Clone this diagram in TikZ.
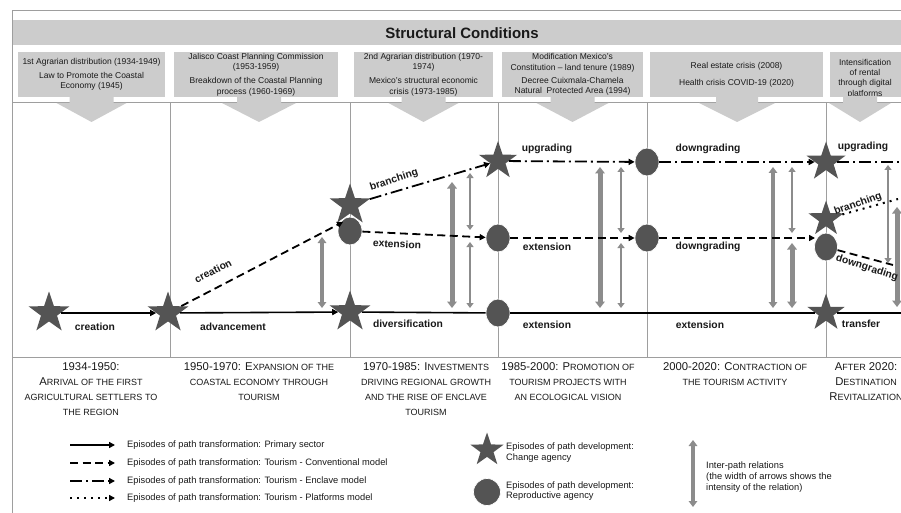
\documentclass[tikz,border=0pt]{standalone}
\usepackage{fontspec}
\setmainfont{Liberation Sans}
\usetikzlibrary{shapes.geometric,arrows.meta,calc}
\definecolor{boxgray}{gray}{0.8}
\definecolor{nodegray}{gray}{0.33}
\definecolor{relgray}{gray}{0.55}
\definecolor{gridgray}{gray}{0.62}
\definecolor{txt}{gray}{0.1}
\newcommand\smc[1]{{\fontsize{9}{15}\selectfont #1}}
\begin{document}
\begin{tikzpicture}[x=1pt,y=-1pt,
  sbox/.style={fill=boxgray, inner sep=0pt, align=center, font=\fontsize{8.5}{10.5}\selectfont, text=txt, minimum height=45pt},
  starnode/.style={star, star points=5, star point ratio=2.55, fill=nodegray, inner sep=0pt, minimum size=#1},
  starnode/.default=43pt,
  circnode/.style={ellipse, fill=nodegray, draw=white, line width=0.7pt, inner sep=0pt, minimum width=24pt, minimum height=28pt},
  lbl/.style={font=\bfseries\fontsize{10.3}{12}\selectfont, text=txt, inner sep=0pt},
  prim/.style={line width=1.6pt, black},
  conv/.style={line width=1.8pt, dash pattern=on 8pt off 4.5pt},
  encl/.style={line width=1.8pt, dash pattern=on 12pt off 4pt on 2pt off 4pt},
  plat/.style={line width=2pt, dash pattern=on 2pt off 5pt},
  arr/.style={-{Triangle[length=6pt,width=6pt]}},
  relthin/.style={relgray, line width=2.8pt, {Triangle[length=5pt,width=7pt]}-{Triangle[length=5pt,width=7pt]}},
  relmed/.style={relgray, line width=4pt, {Triangle[length=6pt,width=8.5pt]}-{Triangle[length=6pt,width=8.5pt]}},
  relthick/.style={relgray, line width=5pt, {Triangle[length=6.5pt,width=9.5pt]}-{Triangle[length=6.5pt,width=9.5pt]}},
  period/.style={anchor=north, inner sep=0pt, align=center, font=\fontsize{11.3}{15}\selectfont, text=txt},
  legtxt/.style={anchor=west, inner sep=0pt, align=left, font=\fontsize{9.3}{10.8}\selectfont, text=txt},
  grid line/.style={gridgray, line width=0.8pt},
]
\useasboundingbox (0,0) rectangle (901,513);
\clip (0,0) rectangle (901,513);
\fill[white] (0,0) rectangle (901,513);

% title band
\fill[boxgray] (12,20) rectangle (920,45);
\draw[grid line] (12,530) -- (12,10) -- (920,10);
\node[font=\bfseries\fontsize{15}{18}\selectfont, text=txt] (title) at (462,33) {Structural Conditions};

% grid
\draw[grid line] (12,102.5) -- (920,102.5);
\draw[grid line] (12,357) -- (920,357);
\foreach \x in {170,350,498.5,647.5,826} \draw[grid line] (\x,102.5) -- (\x,357);

% structural condition boxes
\node[sbox, minimum width=147pt] (b1) at (91.5,74.5) {1st Agrarian distribution (1934-1949)\\[3.5pt] Law to Promote the Coastal\\ Economy (1945)};
\node[sbox, minimum width=164pt] (b2) at (256,74.5) {Jalisco Coast Planning Commission\\ (1953-1959)\\[3.5pt] Breakdown of the Coastal Planning\\ process (1960-1969)};
\node[sbox, minimum width=139pt] (b3) at (423.5,74.5) {2nd Agrarian distribution (1970-\\ 1974)\\[3.5pt] Mexico's structural economic\\ crisis (1973-1985)};
\node[sbox, minimum width=141pt] (b4) at (572.5,74.5) {Modification Mexico's\\ Constitution -- land tenure (1989)\\[2.5pt] Decree Cuixmala-Chamela\\ Natural\ \ Protected Area (1994)};
\node[sbox, minimum width=173pt] (b5) at (736.5,74.5) {Real estate crisis (2008)\\[6.5pt] Health crisis COVID-19 (2020)};
\node[sbox, minimum width=75pt] (b6) at (867.5,74.5) {};
\node[font=\fontsize{8.5}{10.3}\selectfont, text=txt, align=center, inner sep=0pt] (b6t) at (865,78.5) {Intensification\\ of rental\\ through digital\\ platforms};

% down arrows under boxes
\foreach \cx/\sw/\hw in {91.5/22/35, 259/22/37, 423.5/22/35, 572.5/22/36, 737/21/38, 860/17/31}
  \fill[boxgray] (\cx-\sw,96) -- (\cx-\sw,103) -- (\cx-\hw,103) -- (\cx,122) -- (\cx+\hw,103) -- (\cx+\sw,103) -- (\cx+\sw,96) -- cycle;

% inter-path relations
\draw[relmed] (322,237) -- (322,308);
\draw[relthick] (452,182) -- (452,308);
\draw[relthin] (470,173) -- (470,230);
\draw[relthin] (470,242) -- (470,308);
\draw[relthick] (600,167) -- (600,308);
\draw[relthin] (621,167) -- (621,233);
\draw[relthin] (621,243) -- (621,308);
\draw[relmed] (773,167) -- (773,308);
\draw[relthin] (792,167) -- (792,233);
\draw[relthick] (792,243) -- (792,308);
\draw[relthin] (888,165) -- (888,263);
\draw[relthick] (897,207) -- (897,307);

% episodes
\node[starnode] (s1) at (49,313) {};
\node[starnode] (s2) at (168,313) {};
\node[starnode] (s3) at (350,312) {};
\node[starnode] (s4) at (350,205) {};
\node[circnode] (c1) at (350,231) {};
\node[starnode=40pt] (s6) at (498,161) {};
\node[circnode] (c2) at (498,238) {};
\node[circnode] (c4) at (498,313) {};
\node[circnode] (cu) at (647,162) {};
\node[circnode] (c3) at (647,238) {};
\node[starnode=41pt] (s7) at (826,162) {};
\node[starnode=37pt] (s8) at (826,219) {};
\node[circnode, minimum width=23pt] (c5) at (826,247) {};
\node[starnode=39pt] (s5) at (826,313) {};

% free ends
\coordinate (j1) at (343,222);
\coordinate (j2) at (815,238);
\coordinate (eP) at (905,313);
\coordinate (eE) at (905,162);
\coordinate (eD) at (898,199);
\coordinate (eC) at (893,265);

% paths
\draw[prim, arr] (s1) -- (s2);
\draw[prim, arr] (s2) -- (s3);
\draw[prim] (s3) -- (c4);
\draw[prim] (c4) -- (s5);
\draw[prim] (s5) -- (eP);
\draw[conv, arr] (s2) -- (j1);
\draw[conv, arr] (c1) -- (c2);
\draw[conv, arr] (c2) -- (c3);
\draw[conv, arr] (c3) -- (j2);
\draw[conv] (c5) -- (eC);
\draw[encl, arr] (s4) -- (s6);
\draw[encl, arr] (s6) -- (cu);
\draw[encl, arr] (cu) -- (s7);
\draw[encl] (s7) -- (eE);
\draw[plat] (s8) -- (eD);

% path labels
\node[lbl] (l1) at (95,327) {creation};
\node[lbl] (l2) at (233,327) {advancement};
\node[lbl] (l3) at (408,324) {diversification};
\node[lbl] (l4) at (547,325) {extension};
\node[lbl] (l5) at (700,325) {extension};
\node[lbl] (l6) at (861,324) {transfer};
\node[lbl, rotate=27] (l7) at (213,271) {creation};
\node[lbl, rotate=18] (l8) at (394,180) {branching};
\node[lbl, rotate=-2.5] (l9) at (397,244) {extension};
\node[lbl] (l10) at (547,149) {upgrading};
\node[lbl] (l11) at (547,247) {extension};
\node[lbl] (l12) at (708,149) {downgrading};
\node[lbl] (l13) at (708,247) {downgrading};
\node[lbl] (l14) at (863,147) {upgrading};
\node[lbl, rotate=20] (l15) at (858,204) {branching};
\node[lbl, rotate=-18] (l16) at (867,268) {downgrading};

% period titles
\node[period] (p1) at (91,362) {1934-1950:\\ A\smc{RRIVAL OF THE FIRST}\\ \smc{AGRICULTURAL SETTLERS TO}\\ \smc{THE REGION}};
\node[period] (p2) at (259,362) {1950-1970: E\smc{XPANSION OF THE}\\ \smc{COASTAL ECONOMY THROUGH}\\ \smc{TOURISM}};
\node[period] (p3) at (426,362) {1970-1985: I\smc{NVESTMENTS}\\ \smc{DRIVING REGIONAL GROWTH}\\ \smc{AND THE RISE OF ENCLAVE}\\ \smc{TOURISM}};
\node[period] (p4) at (568,362) {1985-2000: P\smc{ROMOTION OF}\\ \smc{TOURISM PROJECTS WITH}\\ \smc{AN ECOLOGICAL VISION}};
\node[period] (p5) at (735,362) {2000-2020: C\smc{ONTRACTION OF}\\ \smc{THE TOURISM ACTIVITY}};
\node[period] (p6) at (866,362) {A\smc{FTER} 2020:\\ D\smc{ESTINATION}\\ R\smc{EVITALIZATION}};

% legend
\node[legtxt] (t1) at (127,445) {Episodes of path transformation: Primary sector};
\node[legtxt] (t2) at (127,463) {Episodes of path transformation: Tourism - Conventional model};
\node[legtxt] (t3) at (127,481) {Episodes of path transformation: Tourism - Enclave model};
\node[legtxt] (t4) at (127,498) {Episodes of path transformation: Tourism - Platforms model};
\draw[prim, arr] ([xshift=-57pt]t1.west) -- ([xshift=-12pt]t1.west);
\draw[conv, arr] ([xshift=-57pt]t2.west) -- ([xshift=-12pt]t2.west);
\draw[encl, arr] ([xshift=-57pt]t3.west) -- ([xshift=-12pt]t3.west);
\draw[plat, arr] ([xshift=-57pt]t4.west) -- ([xshift=-12pt]t4.west);

\node[starnode=35pt] (ls) at (487,450) {};
\node[legtxt] (t5) at (506,452.5) {Episodes of path development:\\ Change agency};
\node[circnode, minimum width=27pt, minimum height=27pt] (lc) at (487,492) {};
\node[legtxt] (t6) at (506,491) {Episodes of path development:\\ Reproductive agency};
\coordinate (r1) at (693,440);
\coordinate (r2) at (693,507);
\draw[relmed] (r1) -- (r2);
\node[legtxt] (t7) at (706,477) {Inter-path relations\\ (the width of arrows shows the\\ intensity of the relation)};
\end{tikzpicture}
\end{document}
